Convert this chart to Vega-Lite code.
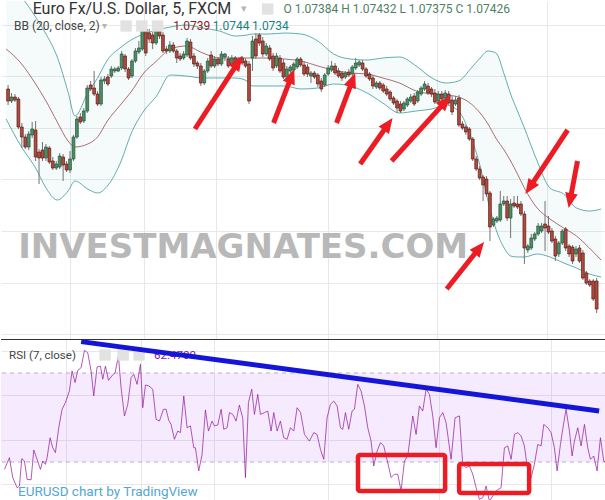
{
"$schema": "https://vega.github.io/schema/vega-lite/v6.json",
"padding": 0,
"background": "#ffffff",
"spacing": 0,
"bounds": "flush",
"config": {"view": {"stroke": null}, "axis": {"labels": false, "ticks": false, "domain": false, "grid": false, "gridColor": "#e8e8e8", "gridWidth": 1}},
"datasets": {
"candles": [
{"i":0,"o":1.07487,"h":1.07491,"l":1.07471,"c":1.07475},
{"i":1,"o":1.07475,"h":1.07483,"l":1.07473,"c":1.07479},
{"i":2,"o":1.07479,"h":1.07482,"l":1.07474,"c":1.07476},
{"i":3,"o":1.07477,"h":1.07479,"l":1.07447,"c":1.07449},
{"i":4,"o":1.07449,"h":1.07453,"l":1.07428,"c":1.07439},
{"i":5,"o":1.07439,"h":1.07442,"l":1.07427,"c":1.07429},
{"i":6,"o":1.07429,"h":1.07445,"l":1.07426,"c":1.07442},
{"i":7,"o":1.07441,"h":1.07454,"l":1.07438,"c":1.07447},
{"i":8,"o":1.07446,"h":1.07455,"l":1.07415,"c":1.07419},
{"i":9,"o":1.07424,"h":1.07427,"l":1.07392,"c":1.07418},
{"i":10,"o":1.07426,"h":1.07434,"l":1.07415,"c":1.07418},
{"i":11,"o":1.07418,"h":1.07432,"l":1.07415,"c":1.07429},
{"i":12,"o":1.07428,"h":1.0743,"l":1.07412,"c":1.07414},
{"i":13,"o":1.07415,"h":1.07419,"l":1.07406,"c":1.07408},
{"i":14,"o":1.07408,"h":1.07415,"l":1.07406,"c":1.07412},
{"i":15,"o":1.07409,"h":1.07423,"l":1.07407,"c":1.0742},
{"i":16,"o":1.07419,"h":1.07422,"l":1.07395,"c":1.07411},
{"i":17,"o":1.07412,"h":1.07415,"l":1.07404,"c":1.07406},
{"i":18,"o":1.07406,"h":1.07425,"l":1.07403,"c":1.07417},
{"i":19,"o":1.07417,"h":1.07441,"l":1.07415,"c":1.07439},
{"i":20,"o":1.07439,"h":1.0746,"l":1.07437,"c":1.07457},
{"i":21,"o":1.07459,"h":1.07463,"l":1.07452,"c":1.07454},
{"i":22,"o":1.07455,"h":1.07468,"l":1.07453,"c":1.07465},
{"i":23,"o":1.07465,"h":1.07491,"l":1.07463,"c":1.07488},
{"i":24,"o":1.07491,"h":1.07495,"l":1.07485,"c":1.07487},
{"i":25,"o":1.07488,"h":1.07505,"l":1.0748,"c":1.07482},
{"i":26,"o":1.07482,"h":1.07485,"l":1.0747,"c":1.07472},
{"i":27,"o":1.07472,"h":1.07499,"l":1.0747,"c":1.07496},
{"i":28,"o":1.07495,"h":1.075,"l":1.07492,"c":1.07497},
{"i":29,"o":1.07499,"h":1.07502,"l":1.0749,"c":1.07492},
{"i":30,"o":1.075,"h":1.0751,"l":1.07498,"c":1.07507},
{"i":31,"o":1.07505,"h":1.07509,"l":1.07503,"c":1.07507},
{"i":32,"o":1.07505,"h":1.0751,"l":1.07504,"c":1.07508},
{"i":33,"o":1.07508,"h":1.07525,"l":1.07506,"c":1.07522},
{"i":34,"o":1.0752,"h":1.07522,"l":1.07504,"c":1.07507},
{"i":35,"o":1.07507,"h":1.07509,"l":1.07496,"c":1.07498},
{"i":36,"o":1.075,"h":1.07517,"l":1.07498,"c":1.07515},
{"i":37,"o":1.07515,"h":1.07528,"l":1.07513,"c":1.07525},
{"i":38,"o":1.07524,"h":1.07535,"l":1.07522,"c":1.07528},
{"i":39,"o":1.07527,"h":1.0755,"l":1.07525,"c":1.07547},
{"i":40,"o":1.07547,"h":1.0755,"l":1.0752,"c":1.07523},
{"i":41,"o":1.07543,"h":1.07547,"l":1.07533,"c":1.07537},
{"i":42,"o":1.07541,"h":1.07545,"l":1.07527,"c":1.07533},
{"i":43,"o":1.07533,"h":1.07548,"l":1.07531,"c":1.07545},
{"i":44,"o":1.07545,"h":1.07548,"l":1.07537,"c":1.0754},
{"i":45,"o":1.07541,"h":1.07544,"l":1.07523,"c":1.07525},
{"i":46,"o":1.07527,"h":1.0753,"l":1.07522,"c":1.07525},
{"i":47,"o":1.07525,"h":1.07535,"l":1.07523,"c":1.07531},
{"i":48,"o":1.07531,"h":1.07534,"l":1.07523,"c":1.07525},
{"i":49,"o":1.07525,"h":1.07527,"l":1.07513,"c":1.07518},
{"i":50,"o":1.0752,"h":1.07523,"l":1.07515,"c":1.07517},
{"i":51,"o":1.07518,"h":1.07525,"l":1.07516,"c":1.07522},
{"i":52,"o":1.07521,"h":1.07538,"l":1.07519,"c":1.07535},
{"i":53,"o":1.07534,"h":1.07537,"l":1.07516,"c":1.07518},
{"i":54,"o":1.0752,"h":1.07523,"l":1.07509,"c":1.07512},
{"i":55,"o":1.07513,"h":1.07515,"l":1.07507,"c":1.0751},
{"i":56,"o":1.0751,"h":1.07513,"l":1.0749,"c":1.07493},
{"i":57,"o":1.07493,"h":1.07507,"l":1.07491,"c":1.07505},
{"i":58,"o":1.07505,"h":1.07518,"l":1.07503,"c":1.07515},
{"i":59,"o":1.07521,"h":1.07525,"l":1.07508,"c":1.0751},
{"i":60,"o":1.0751,"h":1.0752,"l":1.07508,"c":1.07517},
{"i":61,"o":1.07517,"h":1.07519,"l":1.0751,"c":1.07512},
{"i":62,"o":1.07512,"h":1.07525,"l":1.0751,"c":1.07522},
{"i":63,"o":1.07519,"h":1.07523,"l":1.07515,"c":1.07522},
{"i":64,"o":1.07517,"h":1.0752,"l":1.07508,"c":1.0751},
{"i":65,"o":1.07512,"h":1.07521,"l":1.0751,"c":1.07518},
{"i":66,"o":1.07518,"h":1.0752,"l":1.07511,"c":1.07513},
{"i":67,"o":1.07517,"h":1.07519,"l":1.07509,"c":1.07512},
{"i":68,"o":1.07518,"h":1.0752,"l":1.07511,"c":1.07513},
{"i":69,"o":1.07515,"h":1.07518,"l":1.07508,"c":1.0751},
{"i":70,"o":1.07512,"h":1.07515,"l":1.07472,"c":1.07475},
{"i":71,"o":1.07518,"h":1.0754,"l":1.07505,"c":1.07535},
{"i":72,"o":1.07537,"h":1.07543,"l":1.07517,"c":1.0752},
{"i":73,"o":1.07541,"h":1.07543,"l":1.0753,"c":1.07533},
{"i":74,"o":1.07535,"h":1.07539,"l":1.07519,"c":1.07522},
{"i":75,"o":1.07522,"h":1.07533,"l":1.0752,"c":1.0753},
{"i":76,"o":1.07528,"h":1.07531,"l":1.07515,"c":1.07517},
{"i":77,"o":1.0752,"h":1.07523,"l":1.07505,"c":1.07508},
{"i":78,"o":1.0751,"h":1.07523,"l":1.07508,"c":1.0752},
{"i":79,"o":1.07518,"h":1.07521,"l":1.07503,"c":1.07505},
{"i":80,"o":1.07513,"h":1.07517,"l":1.07497,"c":1.07499},
{"i":81,"o":1.07499,"h":1.0751,"l":1.07497,"c":1.07507},
{"i":82,"o":1.07505,"h":1.07511,"l":1.07503,"c":1.07509},
{"i":83,"o":1.07506,"h":1.07514,"l":1.07504,"c":1.07512},
{"i":84,"o":1.07509,"h":1.07519,"l":1.07507,"c":1.07517},
{"i":85,"o":1.07517,"h":1.07519,"l":1.07509,"c":1.07511},
{"i":86,"o":1.07511,"h":1.07515,"l":1.075,"c":1.07502},
{"i":87,"o":1.07509,"h":1.07512,"l":1.07499,"c":1.07502},
{"i":88,"o":1.075,"h":1.07505,"l":1.07493,"c":1.07503},
{"i":89,"o":1.07503,"h":1.07505,"l":1.07497,"c":1.07499},
{"i":90,"o":1.07501,"h":1.07503,"l":1.07489,"c":1.07492},
{"i":91,"o":1.07495,"h":1.07498,"l":1.07484,"c":1.07487},
{"i":92,"o":1.07491,"h":1.07503,"l":1.07489,"c":1.07501},
{"i":93,"o":1.07502,"h":1.07511,"l":1.075,"c":1.07508},
{"i":94,"o":1.07506,"h":1.07515,"l":1.07504,"c":1.0751},
{"i":95,"o":1.0751,"h":1.07513,"l":1.07501,"c":1.07503},
{"i":96,"o":1.07505,"h":1.07508,"l":1.07498,"c":1.075},
{"i":97,"o":1.07503,"h":1.07505,"l":1.07495,"c":1.07498},
{"i":98,"o":1.07499,"h":1.07505,"l":1.07497,"c":1.07503},
{"i":99,"o":1.07504,"h":1.07507,"l":1.07499,"c":1.07501},
{"i":100,"o":1.07502,"h":1.07511,"l":1.075,"c":1.07509},
{"i":101,"o":1.07508,"h":1.07518,"l":1.07506,"c":1.07513},
{"i":102,"o":1.07511,"h":1.07516,"l":1.07509,"c":1.07514},
{"i":103,"o":1.07513,"h":1.07516,"l":1.07505,"c":1.07507},
{"i":104,"o":1.07507,"h":1.07509,"l":1.07498,"c":1.075},
{"i":105,"o":1.07502,"h":1.07504,"l":1.07495,"c":1.07497},
{"i":106,"o":1.07498,"h":1.07501,"l":1.07487,"c":1.0749},
{"i":107,"o":1.07489,"h":1.07495,"l":1.07487,"c":1.07493},
{"i":108,"o":1.07493,"h":1.07495,"l":1.07486,"c":1.07488},
{"i":109,"o":1.07491,"h":1.07493,"l":1.07483,"c":1.07485},
{"i":110,"o":1.07487,"h":1.0749,"l":1.0748,"c":1.07482},
{"i":111,"o":1.07484,"h":1.07486,"l":1.07475,"c":1.07477},
{"i":112,"o":1.07478,"h":1.0748,"l":1.07471,"c":1.07473},
{"i":113,"o":1.07475,"h":1.07477,"l":1.07463,"c":1.07468},
{"i":114,"o":1.07472,"h":1.07475,"l":1.07463,"c":1.07465},
{"i":115,"o":1.07467,"h":1.07475,"l":1.07465,"c":1.07473},
{"i":116,"o":1.07471,"h":1.07479,"l":1.07469,"c":1.07477},
{"i":117,"o":1.07475,"h":1.07482,"l":1.07473,"c":1.07479},
{"i":118,"o":1.0748,"h":1.07483,"l":1.0747,"c":1.07472},
{"i":119,"o":1.07475,"h":1.07486,"l":1.07473,"c":1.07484},
{"i":120,"o":1.07482,"h":1.0749,"l":1.0748,"c":1.07488},
{"i":121,"o":1.07487,"h":1.07495,"l":1.07485,"c":1.07492},
{"i":122,"o":1.0749,"h":1.07493,"l":1.07481,"c":1.07483},
{"i":123,"o":1.07487,"h":1.07489,"l":1.07479,"c":1.07482},
{"i":124,"o":1.07483,"h":1.07487,"l":1.07472,"c":1.07474},
{"i":125,"o":1.07475,"h":1.07485,"l":1.07473,"c":1.07482},
{"i":126,"o":1.07482,"h":1.07485,"l":1.07475,"c":1.07477},
{"i":127,"o":1.07478,"h":1.07486,"l":1.07476,"c":1.07483},
{"i":128,"o":1.07482,"h":1.07485,"l":1.07471,"c":1.07473},
{"i":129,"o":1.07476,"h":1.0748,"l":1.07461,"c":1.07464},
{"i":130,"o":1.07472,"h":1.0748,"l":1.0747,"c":1.07476},
{"i":131,"o":1.07478,"h":1.07481,"l":1.07449,"c":1.07451},
{"i":132,"o":1.07452,"h":1.07455,"l":1.07446,"c":1.07448},
{"i":133,"o":1.07449,"h":1.07451,"l":1.07441,"c":1.07444},
{"i":134,"o":1.07447,"h":1.07449,"l":1.07435,"c":1.07437},
{"i":135,"o":1.07437,"h":1.07439,"l":1.07415,"c":1.07417},
{"i":136,"o":1.07417,"h":1.0742,"l":1.07405,"c":1.07407},
{"i":137,"o":1.07407,"h":1.0741,"l":1.07396,"c":1.07398},
{"i":138,"o":1.07399,"h":1.07401,"l":1.07375,"c":1.07391},
{"i":139,"o":1.07397,"h":1.074,"l":1.07379,"c":1.07382},
{"i":140,"o":1.07383,"h":1.07385,"l":1.07335,"c":1.07349},
{"i":141,"o":1.07351,"h":1.07359,"l":1.07349,"c":1.07357},
{"i":142,"o":1.07355,"h":1.0736,"l":1.07353,"c":1.07358},
{"i":143,"o":1.07356,"h":1.07385,"l":1.07354,"c":1.07372},
{"i":144,"o":1.07372,"h":1.0738,"l":1.0737,"c":1.07375},
{"i":145,"o":1.07375,"h":1.0738,"l":1.07355,"c":1.07358},
{"i":146,"o":1.07358,"h":1.07377,"l":1.07338,"c":1.07372},
{"i":147,"o":1.07373,"h":1.0738,"l":1.07368,"c":1.0737},
{"i":148,"o":1.07372,"h":1.0738,"l":1.07367,"c":1.07369},
{"i":149,"o":1.07372,"h":1.07375,"l":1.0736,"c":1.07362},
{"i":150,"o":1.07362,"h":1.07365,"l":1.07312,"c":1.07328},
{"i":151,"o":1.07326,"h":1.07332,"l":1.07323,"c":1.0733},
{"i":152,"o":1.07328,"h":1.07342,"l":1.07326,"c":1.07338},
{"i":153,"o":1.07337,"h":1.07344,"l":1.07335,"c":1.07342},
{"i":154,"o":1.07342,"h":1.07353,"l":1.0734,"c":1.0735},
{"i":155,"o":1.07345,"h":1.07353,"l":1.07343,"c":1.0735},
{"i":156,"o":1.07352,"h":1.07375,"l":1.07325,"c":1.07348},
{"i":157,"o":1.0735,"h":1.0736,"l":1.07342,"c":1.07344},
{"i":158,"o":1.07345,"h":1.07348,"l":1.07333,"c":1.07335},
{"i":159,"o":1.07337,"h":1.0734,"l":1.07315,"c":1.0732},
{"i":160,"o":1.07322,"h":1.07335,"l":1.07319,"c":1.07333},
{"i":161,"o":1.07333,"h":1.07347,"l":1.07331,"c":1.07345},
{"i":162,"o":1.07347,"h":1.07349,"l":1.07325,"c":1.07328},
{"i":163,"o":1.0733,"h":1.07332,"l":1.07319,"c":1.07322},
{"i":164,"o":1.07329,"h":1.07331,"l":1.07312,"c":1.07315},
{"i":165,"o":1.07322,"h":1.0733,"l":1.07319,"c":1.07327},
{"i":166,"o":1.07328,"h":1.07331,"l":1.07313,"c":1.07315},
{"i":167,"o":1.07323,"h":1.07326,"l":1.07296,"c":1.07298},
{"i":168,"o":1.07303,"h":1.07305,"l":1.07291,"c":1.07293},
{"i":169,"o":1.07295,"h":1.07297,"l":1.07289,"c":1.07291},
{"i":170,"o":1.07295,"h":1.07297,"l":1.07275,"c":1.07277},
{"i":171,"o":1.07295,"h":1.07298,"l":1.07263,"c":1.07267}
],
"bb": [
{"i":-0.57,"u":1.07597,"m":1.07527,"l":1.07457},
{"i":3.71,"u":1.0758,"m":1.07513,"l":1.0743},
{"i":8.0,"u":1.07559,"m":1.07492,"l":1.07408},
{"i":10.86,"u":1.07543,"m":1.07476,"l":1.07389},
{"i":14.29,"u":1.07519,"m":1.07454,"l":1.07376},
{"i":17.43,"u":1.07484,"m":1.07435,"l":1.07385},
{"i":19.43,"u":1.0746,"m":1.07429,"l":1.07395},
{"i":23.14,"u":1.07483,"m":1.07432,"l":1.07387},
{"i":26.0,"u":1.07498,"m":1.07439,"l":1.07383},
{"i":28.86,"u":1.07516,"m":1.07455,"l":1.0739},
{"i":32.86,"u":1.07529,"m":1.07472,"l":1.07415},
{"i":35.71,"u":1.07536,"m":1.07484,"l":1.07442},
{"i":39.43,"u":1.07542,"m":1.07503,"l":1.07465},
{"i":43.14,"u":1.07546,"m":1.07515,"l":1.0748},
{"i":47.14,"u":1.07549,"m":1.07527,"l":1.07501},
{"i":51.71,"u":1.07551,"m":1.0753,"l":1.075},
{"i":56.57,"u":1.07548,"m":1.07523,"l":1.07498},
{"i":61.43,"u":1.07545,"m":1.07518,"l":1.07498},
{"i":66.0,"u":1.0754,"m":1.07518,"l":1.07498},
{"i":69.43,"u":1.07541,"m":1.07518,"l":1.07495},
{"i":70.86,"u":1.07542,"m":1.07518,"l":1.0749},
{"i":75.71,"u":1.07542,"m":1.07518,"l":1.0749},
{"i":80.29,"u":1.07543,"m":1.07517,"l":1.0749},
{"i":85.14,"u":1.07542,"m":1.07515,"l":1.07487},
{"i":90.0,"u":1.07535,"m":1.0751,"l":1.07488},
{"i":94.57,"u":1.07522,"m":1.07506,"l":1.07492},
{"i":99.43,"u":1.07517,"m":1.07503,"l":1.0749},
{"i":104.29,"u":1.07516,"m":1.07502,"l":1.07483},
{"i":108.86,"u":1.07518,"m":1.07498,"l":1.07473},
{"i":113.71,"u":1.07519,"m":1.07493,"l":1.07463},
{"i":118.57,"u":1.0751,"m":1.07485,"l":1.07465},
{"i":123.14,"u":1.07498,"m":1.07482,"l":1.07467},
{"i":127.14,"u":1.07493,"m":1.07481,"l":1.07471},
{"i":130.86,"u":1.07495,"m":1.07479,"l":1.07465},
{"i":134.57,"u":1.07508,"m":1.07472,"l":1.07438},
{"i":137.14,"u":1.07518,"m":1.07463,"l":1.0741},
{"i":139.43,"u":1.07525,"m":1.07452,"l":1.07375},
{"i":141.71,"u":1.07523,"m":1.07438,"l":1.07347},
{"i":144.29,"u":1.075,"m":1.07425,"l":1.07327},
{"i":146.0,"u":1.07482,"m":1.07415,"l":1.0732},
{"i":148.0,"u":1.07465,"m":1.07402,"l":1.07319},
{"i":150.0,"u":1.07448,"m":1.07388,"l":1.07319},
{"i":153.71,"u":1.07415,"m":1.07368,"l":1.07322},
{"i":157.43,"u":1.07388,"m":1.07357,"l":1.07319},
{"i":161.43,"u":1.07382,"m":1.07348,"l":1.07313},
{"i":165.14,"u":1.07368,"m":1.0734,"l":1.07308},
{"i":168.86,"u":1.07365,"m":1.07328,"l":1.07302},
{"i":172.29,"u":1.07367,"m":1.07316,"l":1.07299}
],
"rsi": [
{"i":0.38,"r":26.7},{"i":1.81,"r":31.95},{"i":2.76,"r":22.96},{"i":4.0,"r":18.46},{"i":4.67,"r":19.2},{"i":5.33,"r":31.5},{"i":6.1,"r":30.45},{"i":6.86,"r":22.2},{"i":8.0,"r":22.0},{"i":8.76,"r":35.4},{"i":9.71,"r":31.2},{"i":10.67,"r":26.7},{"i":11.33,"r":30.45},{"i":12.1,"r":28.95},{"i":12.57,"r":31.95},{"i":13.43,"r":40.9},{"i":14.19,"r":36.4},{"i":14.95,"r":34.2},{"i":15.9,"r":45.4},{"i":16.86,"r":53.7},{"i":17.8,"r":56.7},{"i":18.95,"r":61.9},{"i":19.7,"r":70.9},{"i":20.57,"r":65.7},{"i":21.33,"r":71.2},{"i":22.29,"r":72.4},{"i":23.24,"r":80.2},{"i":24.19,"r":79.1},{"i":25.14,"r":70.9},{"i":25.9,"r":59.7},{"i":26.86,"r":72.7},{"i":27.8,"r":73.1},{"i":28.48,"r":67.2},{"i":29.24,"r":73.1},{"i":30.1,"r":66.7},{"i":31.05,"r":68.65},{"i":32.0,"r":70.15},{"i":32.95,"r":77.6},{"i":33.71,"r":63.4},{"i":34.67,"r":50.7},{"i":35.62,"r":55.9},{"i":36.57,"r":67.9},{"i":37.33,"r":69.4},{"i":38.29,"r":64.9},{"i":39.24,"r":73.9},{"i":39.9,"r":54.4},{"i":40.67,"r":64.6},{"i":41.62,"r":64.2},{"i":42.76,"r":62.7},{"i":43.71,"r":49.2},{"i":44.67,"r":48.4},{"i":45.81,"r":53.7},{"i":46.57,"r":53.7},{"i":47.33,"r":48.7},{"i":48.0,"r":46.9},{"i":48.95,"r":40.2},{"i":49.9,"r":43.9},{"i":50.67,"r":43.2},{"i":51.62,"r":59.7},{"i":52.57,"r":45.4},{"i":53.52,"r":46.2},{"i":54.48,"r":36.4},{"i":54.95,"r":36.4},{"i":55.9,"r":26.0},{"i":56.86,"r":33.4},{"i":57.81,"r":53.4},{"i":58.67,"r":43.9},{"i":59.71,"r":48.4},{"i":60.38,"r":46.2},{"i":61.33,"r":46.6},{"i":62.29,"r":53.7},{"i":63.05,"r":44.7},{"i":64.0,"r":45.4},{"i":64.67,"r":52.2},{"i":65.62,"r":51.4},{"i":66.57,"r":48.4},{"i":67.52,"r":55.6},{"i":68.48,"r":49.6},{"i":69.24,"r":23.0},{"i":70.1,"r":56.7},{"i":71.05,"r":62.7},{"i":71.81,"r":51.4},{"i":72.76,"r":60.4},{"i":73.52,"r":51.4},{"i":74.67,"r":52.2},{"i":75.62,"r":52.9},{"i":76.57,"r":43.9},{"i":77.33,"r":52.2},{"i":78.29,"r":43.9},{"i":79.24,"r":48.4},{"i":80.19,"r":40.9},{"i":81.14,"r":40.2},{"i":82.1,"r":45.4},{"i":83.05,"r":43.9},{"i":84.0,"r":54.4},{"i":85.0,"r":52.2},
{"i":86.1,"r":42.4},{"i":87.52,"r":39.4},{"i":88.76,"r":43.2},{"i":89.71,"r":42.4},{"i":90.67,"r":35.7},{"i":91.62,"r":31.2},{"i":92.57,"r":49.9},{"i":93.52,"r":55.9},{"i":94.48,"r":57.4},{"i":95.43,"r":55.2},{"i":96.38,"r":45.4},{"i":97.05,"r":44.7},{"i":97.81,"r":52.2},{"i":98.76,"r":44.7},{"i":99.71,"r":52.9},{"i":100.38,"r":53.7},{"i":101.33,"r":64.9},{"i":102.29,"r":61.9},{"i":103.24,"r":55.2},{"i":104.19,"r":45.4},{"i":105.14,"r":39.4},{"i":105.9,"r":28.2},{"i":106.86,"r":34.9},{"i":107.81,"r":38.7},{"i":108.76,"r":37.2},{"i":109.9,"r":29.7},{"i":110.86,"r":23.0},{"i":111.81,"r":24.5},{"i":112.76,"r":24.5},{"i":113.71,"r":17.0},{"i":114.67,"r":30.45},{"i":115.62,"r":32.7},{"i":117.05,"r":50.7},{"i":118.0,"r":42.4},{"i":118.95,"r":55.2},{"i":119.9,"r":52.9},{"i":120.86,"r":62.7},{"i":121.81,"r":60.4},{"i":122.76,"r":50.7},{"i":123.71,"r":36.4},{"i":124.67,"r":49.9},{"i":125.62,"r":52.2},{"i":126.57,"r":47.7},{"i":128.0,"r":31.2},{"i":129.14,"r":49.9},{"i":130.38,"r":50.7},{"i":131.33,"r":28.95},{"i":132.29,"r":27.45},{"i":133.24,"r":28.2},{"i":134.19,"r":24.5},{"i":135.14,"r":18.5},{"i":136.1,"r":13.2},{"i":137.05,"r":14.0},{"i":138.0,"r":19.2},{"i":138.95,"r":12.5},{"i":139.9,"r":14.7},{"i":140.86,"r":17.0},{"i":142.29,"r":18.5},{"i":143.24,"r":36.4},{"i":144.19,"r":37.2},{"i":145.14,"r":31.2},{"i":146.1,"r":42.4},{"i":147.05,"r":43.2},{"i":148.0,"r":41.7},{"i":148.95,"r":37.2},{"i":149.9,"r":26.0},{"i":150.86,"r":23.0},{"i":151.81,"r":29.0},{"i":152.76,"r":37.9},{"i":153.71,"r":37.2},{"i":154.48,"r":46.9},{"i":155.62,"r":45.4},{"i":156.57,"r":43.2},{"i":157.52,"r":36.4},{"i":158.29,"r":26.0},{"i":159.24,"r":37.9},{"i":160.19,"r":47.7},{"i":160.86,"r":53.7},{"i":161.81,"r":43.9},{"i":162.57,"r":32.7},{"i":163.24,"r":39.4},{"i":164.19,"r":45.4},{"i":165.14,"r":37.2},{"i":166.1,"r":46.9},{"i":167.05,"r":36.4},{"i":167.81,"r":31.2},{"i":168.76,"r":32.7},{"i":169.71,"r":26.0},{"i":170.67,"r":40.9},{"i":171.62,"r":30.45},{"i":172.29,"r":29.7}
],
"arrows": [
{"x1":54.29,"p1":1.07447,"x2":68.0,"p2":1.0752},
{"x1":77.14,"p1":1.07453,"x2":83.14,"p2":1.07507},
{"x1":95.43,"p1":1.07453,"x2":100.86,"p2":1.07503},
{"x1":102.29,"p1":1.07412,"x2":111.71,"p2":1.07458},
{"x1":111.43,"p1":1.07415,"x2":128.57,"p2":1.0748},
{"x1":162.57,"p1":1.07446,"x2":150.29,"p2":1.07382},
{"x1":165.43,"p1":1.07415,"x2":162.86,"p2":1.07368},
{"x1":127.43,"p1":1.07287,"x2":138.29,"p2":1.07334}
],
"trend": [{"x1":22.3,"r1":84.1,"x2":170.3,"r2":52.9}],
"boxes": [
{"x1":101.4,"x2":126.3,"r1":33.1,"r2":17.0},
{"x1":130.3,"x2":150.3,"r1":29.1,"r2":16.1}
]
},
"vconcat": [
{
"width": 605, "height": 338,
"layer": [
{"data": {"name": "bb"}, "mark": {"type": "area", "interpolate": "monotone", "fill": "#1f86a0", "fillOpacity": 0.045, "clip": true},
 "encoding": {
  "x": {"field": "i", "type": "quantitative", "title": null, "scale": {"domain": [-0.6, 172.26], "nice": false, "zero": false}, "axis": {"grid": true, "values": [18.0, 39.43, 60.29, 92.86, 124.57, 156.57]}},
  "y": {"field": "u", "type": "quantitative", "title": null, "scale": {"domain": [1.07237, 1.07575], "nice": false, "zero": false}, "axis": {"grid": true, "values": [1.07551, 1.075, 1.07448, 1.07397, 1.07345, 1.07293, 1.07242]}},
  "y2": {"field": "l"}}},
{"data": {"name": "bb"}, "mark": {"type": "line", "interpolate": "monotone", "color": "#138484", "strokeWidth": 1, "opacity": 0.65, "clip": true},
 "encoding": {"x": {"field": "i", "type": "quantitative", "title": null}, "y": {"field": "u", "type": "quantitative", "title": null}}},
{"data": {"name": "bb"}, "mark": {"type": "line", "interpolate": "monotone", "color": "#138484", "strokeWidth": 1, "opacity": 0.65, "clip": true},
 "encoding": {"x": {"field": "i", "type": "quantitative", "title": null}, "y": {"field": "l", "type": "quantitative", "title": null}}},
{"data": {"name": "bb"}, "mark": {"type": "line", "interpolate": "monotone", "color": "#872323", "strokeWidth": 1, "opacity": 0.65, "clip": true},
 "encoding": {"x": {"field": "i", "type": "quantitative", "title": null}, "y": {"field": "m", "type": "quantitative", "title": null}}},
{"data": {"values": [{}]}, "mark": {"type": "text", "text": "INVESTMAGNATES.COM", "font": "DejaVu Sans", "fontWeight": "bold", "fontSize": 34, "align": "center", "baseline": "alphabetic", "color": "#b3b3b3", "opacity": 0.92},
 "encoding": {"x": {"datum": 68.3, "type": "quantitative", "title": null}, "y": {"datum": 1.07318, "type": "quantitative", "title": null}}},
{"data": {"name": "candles"}, "mark": {"type": "rule", "color": "#737375", "strokeWidth": 1},
 "encoding": {"x": {"field": "i", "type": "quantitative", "title": null}, "y": {"field": "h", "type": "quantitative", "title": null}, "y2": {"field": "l"}}},
{"data": {"name": "candles"}, "mark": {"type": "bar", "size": 2.8, "orient": "vertical", "strokeWidth": 0.7},
 "encoding": {"x": {"field": "i", "type": "quantitative", "title": null}, "y": {"field": "o", "type": "quantitative", "title": null}, "y2": {"field": "c"},
  "fill": {"condition": {"test": "datum.c >= datum.o", "value": "#4b8f67"}, "value": "#b04b40"},
  "stroke": {"condition": {"test": "datum.c >= datum.o", "value": "#225437"}, "value": "#5b1a13"}}},
{"data": {"name": "arrows"},
 "transform": [
  {"calculate": "(datum.x2 - datum.x1) * 3.5", "as": "dx"},
  {"calculate": "(datum.p1 - datum.p2) * 100000", "as": "dy"},
  {"calculate": "sqrt(datum.dx * datum.dx + datum.dy * datum.dy)", "as": "len"},
  {"calculate": "datum.x2 - datum.dx / datum.len * 9 / 3.5", "as": "xe"},
  {"calculate": "datum.p2 + datum.dy / datum.len * 9 / 100000", "as": "pe"}],
 "mark": {"type": "rule", "color": "#ec1c24", "strokeWidth": 5, "strokeCap": "butt"},
 "encoding": {"x": {"field": "x1", "type": "quantitative", "title": null}, "y": {"field": "p1", "type": "quantitative", "title": null}, "x2": {"field": "xe"}, "y2": {"field": "pe"}}},
{"data": {"name": "arrows"},
 "transform": [
  {"calculate": "(datum.x2 - datum.x1) * 3.5", "as": "dx"},
  {"calculate": "(datum.p1 - datum.p2) * 100000", "as": "dy"},
  {"calculate": "atan2(datum.dx, -datum.dy) * 180 / PI", "as": "ang"}],
 "mark": {"type": "point", "shape": "M0,0L0.85,2L-0.85,2Z", "filled": true, "size": 225, "color": "#ec1c24", "opacity": 1, "strokeWidth": 0},
 "encoding": {"x": {"field": "x2", "type": "quantitative", "title": null}, "y": {"field": "p2", "type": "quantitative", "title": null}, "angle": {"field": "ang", "type": "quantitative", "scale": null}}},
{"data": {"values": [{}]}, "mark": {"type": "text", "text": "Euro Fx/U.S. Dollar, 5, FXCM", "font": "Roboto", "fontSize": 16, "align": "left", "baseline": "alphabetic", "color": "#333333"},
 "encoding": {"x": {"datum": 7.14, "type": "quantitative", "title": null}, "y": {"datum": 1.07562, "type": "quantitative", "title": null}}},
{"data": {"values": [{}]}, "mark": {"type": "text", "text": "▾", "font": "DejaVu Sans", "fontSize": 11, "align": "center", "baseline": "alphabetic", "color": "#b5b5b5"},
 "encoding": {"x": {"datum": 68.5, "type": "quantitative", "title": null}, "y": {"datum": 1.07564, "type": "quantitative", "title": null}}},
{"data": {"values": [{}]}, "mark": {"type": "square", "size": 130, "color": "#e2e2e2", "opacity": 1},
 "encoding": {"x": {"datum": 75.43, "type": "quantitative", "title": null}, "y": {"datum": 1.07567, "type": "quantitative", "title": null}}},
{"data": {"values": [{}]}, "mark": {"type": "text", "text": "O 1.07384 H 1.07432 L 1.07375 C 1.07426", "font": "Roboto", "fontSize": 12, "align": "left", "baseline": "alphabetic", "color": "#4f7f66"},
 "encoding": {"x": {"datum": 80.0, "type": "quantitative", "title": null}, "y": {"datum": 1.07563, "type": "quantitative", "title": null}}},
{"data": {"values": [{}]}, "mark": {"type": "text", "text": "BB (20, close, 2)", "font": "Roboto", "fontSize": 12, "align": "left", "baseline": "alphabetic", "color": "#444444"},
 "encoding": {"x": {"datum": 1.71, "type": "quantitative", "title": null}, "y": {"datum": 1.07546, "type": "quantitative", "title": null}}},
{"data": {"values": [{}]}, "mark": {"type": "text", "text": "▾", "font": "DejaVu Sans", "fontSize": 10, "align": "center", "baseline": "alphabetic", "color": "#b5b5b5"},
 "encoding": {"x": {"datum": 28.0, "type": "quantitative", "title": null}, "y": {"datum": 1.07547, "type": "quantitative", "title": null}}},
{"data": {"values": [{"k": 34.29}, {"k": 38.86}, {"k": 43.43}]}, "mark": {"type": "square", "size": 130, "color": "#e2e2e2", "opacity": 1},
 "encoding": {"x": {"field": "k", "type": "quantitative", "title": null}, "y": {"datum": 1.0755, "type": "quantitative", "title": null}}},
{"data": {"values": [{}]}, "mark": {"type": "text", "text": "1.0739", "font": "Roboto", "fontSize": 12, "align": "left", "baseline": "alphabetic", "color": "#872323"},
 "encoding": {"x": {"datum": 48.0, "type": "quantitative", "title": null}, "y": {"datum": 1.07546, "type": "quantitative", "title": null}}},
{"data": {"values": [{}]}, "mark": {"type": "text", "text": "1.0744", "font": "Roboto", "fontSize": 12, "align": "left", "baseline": "alphabetic", "color": "#138484"},
 "encoding": {"x": {"datum": 59.43, "type": "quantitative", "title": null}, "y": {"datum": 1.07546, "type": "quantitative", "title": null}}},
{"data": {"values": [{}]}, "mark": {"type": "text", "text": "1.0734", "font": "Roboto", "fontSize": 12, "align": "left", "baseline": "alphabetic", "color": "#138484"},
 "encoding": {"x": {"datum": 70.86, "type": "quantitative", "title": null}, "y": {"datum": 1.07546, "type": "quantitative", "title": null}}}
]
},
{
"width": 605, "height": 162,
"layer": [
{"data": {"values": [{}]}, "mark": {"type": "rect", "color": "#9915ff", "opacity": 0.09},
 "encoding": {
  "x": {"datum": -0.6, "type": "quantitative", "title": null, "scale": {"domain": [-0.6, 172.26], "nice": false, "zero": false}, "axis": {"grid": true, "values": [18.0, 39.43, 60.29, 92.86, 124.57, 156.57]}},
  "x2": {"datum": 172.26},
  "y": {"datum": 70, "type": "quantitative", "title": null, "scale": {"domain": [12.47, 85.28], "nice": false, "zero": false}, "axis": {"grid": true, "values": [20, 40, 60, 80]}},
  "y2": {"datum": 30}}},
{"data": {"values": [{}]}, "mark": {"type": "rule", "color": "#b9aec6", "strokeDash": [4, 4], "strokeWidth": 1},
 "encoding": {"y": {"datum": 70, "type": "quantitative", "title": null}}},
{"data": {"values": [{}]}, "mark": {"type": "rule", "color": "#b9aec6", "strokeDash": [4, 4], "strokeWidth": 1},
 "encoding": {"y": {"datum": 30, "type": "quantitative", "title": null}}},
{"data": {"values": [{}]}, "mark": {"type": "rule", "color": "#333333", "strokeWidth": 1},
 "encoding": {"y": {"datum": 85.05, "type": "quantitative", "title": null}}},
{"data": {"name": "rsi"}, "mark": {"type": "line", "color": "#8e1599", "strokeWidth": 1, "opacity": 0.7, "clip": true},
 "encoding": {"x": {"field": "i", "type": "quantitative", "title": null}, "y": {"field": "r", "type": "quantitative", "title": null}}},
{"data": {"values": [{}]}, "mark": {"type": "text", "text": "RSI (7, close)", "font": "Roboto", "fontSize": 11.5, "align": "left", "baseline": "alphabetic", "color": "#444444"},
 "encoding": {"x": {"datum": 1.71, "type": "quantitative", "title": null}, "y": {"datum": 76.3, "type": "quantitative", "title": null}}},
{"data": {"values": [{"k": 29.14}, {"k": 34.29}, {"k": 38.86}]}, "mark": {"type": "square", "size": 130, "color": "#e2e2e2", "opacity": 1},
 "encoding": {"x": {"field": "k", "type": "quantitative", "title": null}, "y": {"datum": 78.1, "type": "quantitative", "title": null}}},
{"data": {"values": [{}]}, "mark": {"type": "text", "text": "62.4700", "font": "Roboto", "fontSize": 11.5, "align": "left", "baseline": "alphabetic", "color": "#8e1599"},
 "encoding": {"x": {"datum": 43.14, "type": "quantitative", "title": null}, "y": {"datum": 76.3, "type": "quantitative", "title": null}}},
{"data": {"name": "trend"}, "mark": {"type": "rule", "color": "#1515d8", "strokeWidth": 5, "strokeCap": "butt"},
 "encoding": {"x": {"field": "x1", "type": "quantitative", "title": null}, "y": {"field": "r1", "type": "quantitative", "title": null}, "x2": {"field": "x2"}, "y2": {"field": "r2"}}},
{"data": {"name": "boxes"}, "mark": {"type": "rect", "fill": "transparent", "stroke": "#ec1c24", "strokeWidth": 4.5, "cornerRadius": 2},
 "encoding": {"x": {"field": "x1", "type": "quantitative", "title": null}, "x2": {"field": "x2"}, "y": {"field": "r1", "type": "quantitative", "title": null}, "y2": {"field": "r2"}}},
{"data": {"values": [{}]}, "mark": {"type": "text", "text": "EURUSD chart by TradingView", "font": "Roboto", "fontSize": 13.5, "align": "left", "baseline": "alphabetic", "color": "#55a6d4"},
 "encoding": {"x": {"datum": 4.29, "type": "quantitative", "title": null}, "y": {"datum": 14.6, "type": "quantitative", "title": null}}}
]
}
]
}
